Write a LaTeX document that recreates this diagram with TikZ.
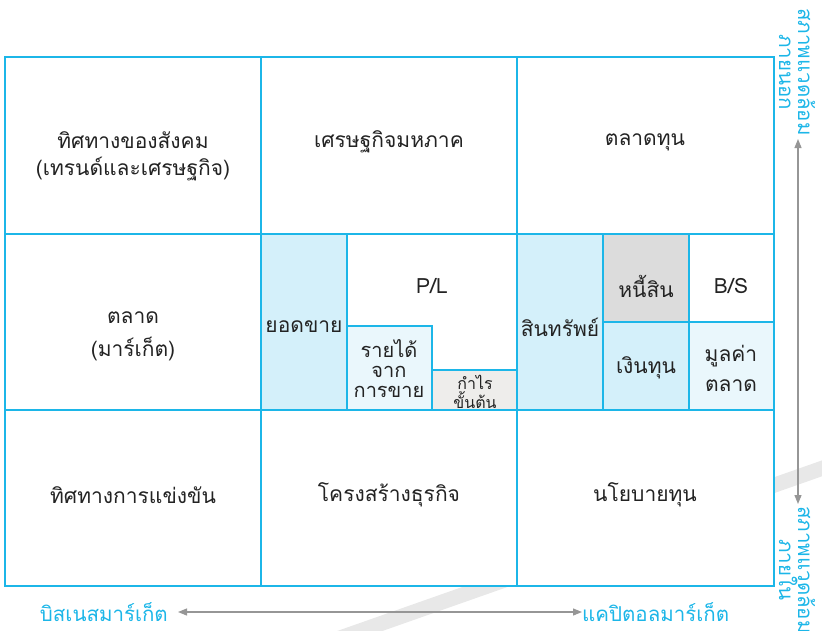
\documentclass[tikz,border=0pt]{standalone}
\usepackage{fontspec}
\setmainfont[Script=Thai]{Loma}
\usetikzlibrary{arrows.meta}
\definecolor{cy}{RGB}{28,182,232}
\definecolor{lb}{RGB}{212,240,250}
\definecolor{vlb}{RGB}{234,247,252}
\definecolor{lg}{RGB}{238,237,235}
\definecolor{dg}{RGB}{220,220,220}
\definecolor{ar}{RGB}{150,150,150}
\definecolor{tx}{RGB}{35,35,35}
\newcommand\mycell[6]{%
  \node[cellbox,fill=#6,minimum width={(#4-#2)*1pt},minimum height={(#5-#3)*1pt}] (#1) at ({(#2+#4)/2},{(#3+#5)/2}) {};}
\begin{document}
\begin{tikzpicture}[x=1pt,y=-1pt,
  cellbox/.style={draw=cy,line width=1.4pt,inner sep=0pt},
  lab/.style={text=tx,align=center,font=\fontsize{21}{27}\selectfont,inner sep=0pt},
  side/.style={text=cy,align=center,font=\fontsize{20.5}{19}\selectfont,inner sep=0pt},
  axis/.style={draw=ar,line width=1.2pt,{Triangle[length=9pt,width=7pt]}-{Triangle[length=9pt,width=7pt]}}]
\useasboundingbox (0,0) rectangle (822,630);
% watermark band
\draw[line width=15pt,color=black!9] (320,645) -- (840,462);
% top row
\mycell{soc}{5}{57}{261}{234}{white}
\mycell{macro}{261}{57}{517}{234}{white}
\mycell{cmkt}{517}{57}{774}{234}{white}
% middle row
\mycell{mkt}{5}{234}{261}{410}{white}
\mycell{plbox}{261}{234}{517}{410}{white}
\mycell{sales}{261}{234}{347}{410}{lb}
\mycell{rev}{347}{326}{432}{410}{vlb}
\mycell{gp}{432}{370}{517}{410}{lg}
\mycell{bsbox}{517}{234}{774}{410}{white}
\mycell{asset}{517}{234}{603}{410}{lb}
\mycell{debt}{603}{234}{689}{322}{dg}
\mycell{bs}{689}{234}{774}{322}{white}
\mycell{equity}{603}{322}{689}{410}{lb}
\mycell{mv}{689}{322}{774}{410}{vlb}
% bottom row
\mycell{comp}{5}{410}{261}{586}{white}
\mycell{struct}{261}{410}{517}{586}{white}
\mycell{cpol}{517}{410}{774}{586}{white}
% texts
\node[lab] (soct) at (133,156) {ทิศทางของสังคม\\(เทรนด์และเศรษฐกิจ)};
\node[lab] (macrot) at (389,142) {เศรษฐกิจมหภาค};
\node[lab] (cmktt) at (645,142) {ตลาดทุน};
\node[lab,font=\fontsize{21}{33}\selectfont] (mktt) at (133,336) {ตลาด\\(มาร์เก็ต)};
\node[lab] (salest) at (304,327) {ยอดขาย};
\node[lab] (pl) at (432,286) {P/L};
\node[lab,font=\fontsize{20}{20}\selectfont] (revt) at (389,369) {รายได้\\จาก\\การขาย};
\node[lab,font=\fontsize{16}{19}\selectfont] (gpt) at (475,392) {กำไร\\ขั้นต้น};
\node[lab] (assett) at (560,327) {สินทรัพย์};
\node[lab] (debtt) at (646,286) {หนี้สิน};
\node[lab] (bst) at (731,286) {B/S};
\node[lab] (equityt) at (646,368) {เงินทุน};
\node[lab,font=\fontsize{21}{30}\selectfont] (mvt) at (731,368) {มูลค่า\\ตลาด};
\node[lab] (compt) at (133,495) {ทิศทางการแข่งขัน};
\node[lab] (structt) at (389,495) {โครงสร้างธุรกิจ};
\node[lab] (cpolt) at (645,495) {นโยบายทุน};
% side labels
\node[side,rotate=-90] (outer) at (797,72) {สภาพแวดล้อม\\ภายนอก};
\node[side,rotate=-90] (inner) at (797,570) {สภาพแวดล้อม\\ภายใน};
\coordinate (vt) at (798,139);
\coordinate (vb) at (798,504);
\draw[axis] (vt) -- (vb);
% bottom labels
\node[side,anchor=east] (biz) at (168,612) {บิสเนสมาร์เก็ต};
\node[side,anchor=west] (cap) at (582,612) {แคปิตอลมาร์เก็ต};
\draw[axis] ([xshift=10pt]biz.east) -- (cap.west);
\end{tikzpicture}
\end{document}
